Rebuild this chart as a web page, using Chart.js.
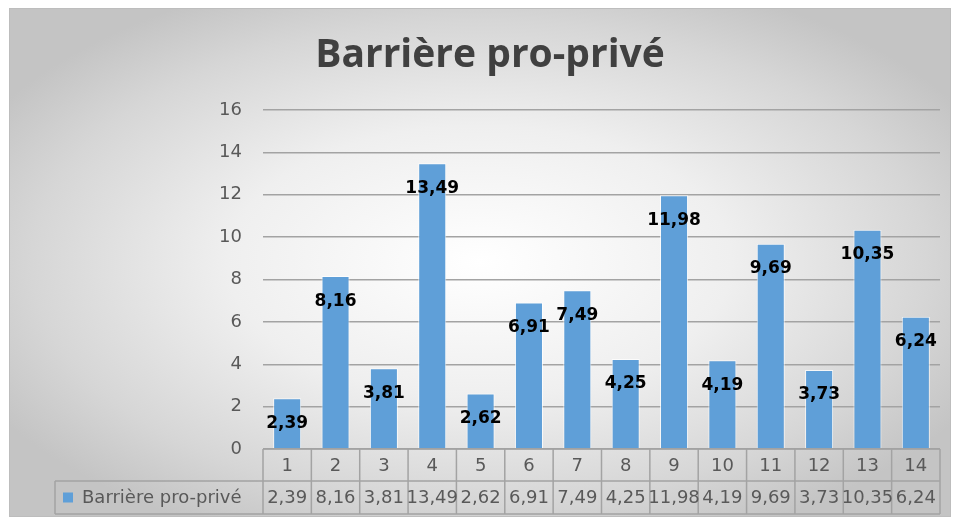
<!DOCTYPE html>
<html>
<head>
<meta charset="utf-8">
<script src="https://cdn.jsdelivr.net/npm/chart.js@4"></script>
<style>
  html, body { margin: 0; padding: 0; background: #fff; }
  #wrap { width: 957px; height: 519px; }
</style>
</head>
<body>
<div id="wrap"><canvas id="barChart"></canvas></div>
<script>
const chartTitle = 'Barrière pro-privé';
const seriesName = 'Barrière pro-privé';
const categories = ['1', '2', '3', '4', '5', '6', '7', '8', '9', '10', '11', '12', '13', '14'];
const values = [2.39, 8.16, 3.81, 13.49, 2.62, 6.91, 7.49, 4.25, 11.98, 4.19, 9.69, 3.73, 10.35, 6.24];

const barColor = '#5f9fd8';
const textGray = '#595959';
const lineGray = '#a3a3a3';
const tableFont = '18px "DejaVu Sans"';

const fmt = v => v.toFixed(2).replace('.', ',');

// gray frame with a soft radial fill, plus the title
const backdrop = {
    id: 'backdrop',
    beforeDraw(chart) {
        const ctx = chart.ctx;
        const x0 = 9, y0 = 8, x1 = 950, y1 = 516;
        ctx.save();
        ctx.fillStyle = '#ffffff';
        ctx.fillRect(0, 0, chart.width, chart.height);
        const cx = (x0 + x1) / 2, cy = (y0 + y1) / 2;
        const k = (y1 - y0) / (x1 - x0);
        ctx.translate(cx, cy);
        ctx.scale(1, k);
        const g = ctx.createRadialGradient(0, 0, 0, 0, 0, 560);
        g.addColorStop(0, '#ffffff');
        g.addColorStop(0.45, '#efefef');
        g.addColorStop(0.8, '#d6d6d6');
        g.addColorStop(1, '#c4c4c4');
        ctx.fillStyle = g;
        ctx.fillRect(x0 - cx, (y0 - cy) / k, x1 - x0, (y1 - y0) / k);
        ctx.restore();

        ctx.save();
        ctx.strokeStyle = '#bdbdbd';
        ctx.lineWidth = 1;
        ctx.strokeRect(x0 + 0.5, y0 + 0.5, x1 - x0, y1 - y0);
        ctx.font = 'bold 39px "Open Sans"';
        ctx.fillStyle = '#404040';
        ctx.textAlign = 'center';
        ctx.textBaseline = 'middle';
        ctx.fillText(chartTitle, 490, 56);
        ctx.restore();
    }
};

// values written just inside the top of each bar
const barLabels = {
    id: 'barLabels',
    afterDatasetsDraw(chart) {
        const ctx = chart.ctx;
        const meta = chart.getDatasetMeta(0);
        ctx.save();
        ctx.font = 'bold 17px "DejaVu Sans"';
        ctx.fillStyle = '#000000';
        ctx.textAlign = 'center';
        ctx.textBaseline = 'middle';
        meta.data.forEach((bar, i) => {
            ctx.fillText(fmt(values[i]), bar.x, bar.y + 25);
        });
        ctx.restore();
    }
};

// data table under the plot: category row, then legend key + values
const dataTable = {
    id: 'dataTable',
    afterDraw(chart) {
        const ctx = chart.ctx;
        const area = chart.chartArea;
        const xs = chart.scales.x;
        const n = categories.length;
        const colW = (area.right - area.left) / n;
        const rowTop = area.bottom;
        const rowMid = rowTop + 32;
        const rowBot = rowMid + 33;
        const legendLeft = 55;

        ctx.save();
        ctx.strokeStyle = lineGray;
        ctx.lineWidth = 1.5;
        ctx.beginPath();
        ctx.moveTo(area.left, rowTop); ctx.lineTo(area.right, rowTop);
        ctx.moveTo(legendLeft, rowMid); ctx.lineTo(area.right, rowMid);
        ctx.moveTo(legendLeft, rowBot); ctx.lineTo(area.right, rowBot);
        ctx.moveTo(legendLeft, rowMid); ctx.lineTo(legendLeft, rowBot);
        for (let i = 0; i <= n; i++) {
            const x = area.left + i * colW;
            ctx.moveTo(x, rowTop); ctx.lineTo(x, rowBot);
        }
        ctx.stroke();

        ctx.font = tableFont;
        ctx.fillStyle = textGray;
        ctx.textAlign = 'center';
        ctx.textBaseline = 'middle';
        categories.forEach((c, i) => {
            const x = xs.getPixelForValue(i);
            ctx.fillText(c, x, (rowTop + rowMid) / 2 + 1);
            ctx.fillText(fmt(values[i]), x, (rowMid + rowBot) / 2 + 1);
        });

        ctx.fillStyle = barColor;
        ctx.fillRect(63, (rowMid + rowBot) / 2 - 5, 10, 10);
        ctx.fillStyle = textGray;
        ctx.textAlign = 'left';
        ctx.fillText(seriesName, 82, (rowMid + rowBot) / 2 + 1);
        ctx.restore();
    }
};

new Chart(document.getElementById('barChart'), {
    type: 'bar',
    data: {
        labels: categories,
        datasets: [{
            label: seriesName,
            data: values,
            backgroundColor: barColor,
            borderColor: 'rgba(255,255,255,0.75)',
            borderWidth: 1,
            categoryPercentage: 1,
            barPercentage: 0.58
        }]
    },
    options: {
        responsive: true,
        maintainAspectRatio: false,
        animation: false,
        layout: {
            padding: { left: 10, right: 17, top: 110, bottom: 5 }
        },
        plugins: {
            legend: { display: false },
            tooltip: { enabled: false },
            title: { display: false }
        },
        scales: {
            x: {
                ticks: { display: false },
                grid: { display: false },
                border: { display: false },
                afterFit: s => { s.height = 65; }
            },
            y: {
                min: 0,
                max: 16,
                ticks: {
                    stepSize: 2,
                    padding: 21,
                    color: textGray,
                    font: { family: 'DejaVu Sans', size: 18 }
                },
                grid: { color: lineGray, lineWidth: 1.5, drawTicks: false },
                border: { display: false },
                afterFit: s => { s.width = 253; }
            }
        }
    },
    plugins: [backdrop, barLabels, dataTable]
});
</script>
</body>
</html>
